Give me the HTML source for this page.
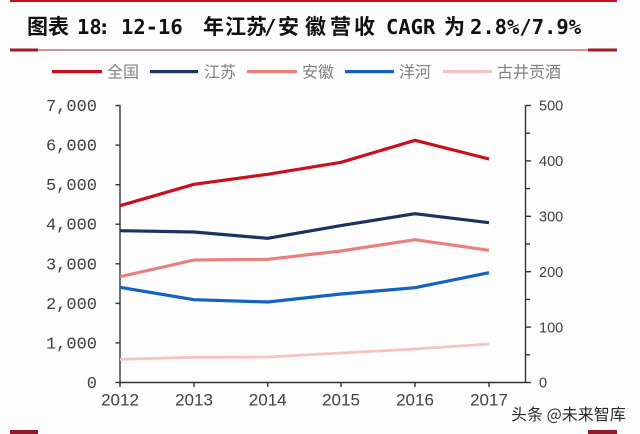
<!DOCTYPE html>
<html>
<head>
<meta charset="utf-8">
<style>
  html, body { margin:0; padding:0; background:#fdfdfe; }
  body { width:640px; height:434px; overflow:hidden; }
  svg { display:block; }
</style>
</head>
<body>
<svg width="640" height="434" viewBox="0 0 640 434" xmlns="http://www.w3.org/2000/svg">
  <rect x="0" y="0" width="640" height="434" fill="#fdfdfe"/>
  <!-- top red rule -->
  <rect x="10" y="0" width="607" height="2" fill="#c0121f"/>
  <!-- title -->
  <g fill="#111" font-weight="bold">
    <text x="27" y="34" font-family="'Noto Sans CJK SC', sans-serif" font-size="21">图表</text>
    <text x="77" y="34" font-family="'DejaVu Sans Mono', monospace" font-size="20.5">18</text>
    <text x="98" y="34" font-family="'DejaVu Sans Mono', monospace" font-size="20.5">:</text>
    <text x="121" y="34" font-family="'DejaVu Sans Mono', monospace" font-size="20.5">12-16</text>
    <text x="203 225 246" y="34" font-family="'Noto Sans CJK SC', sans-serif" font-size="21">年江苏</text>
    <text x="264" y="34" font-family="'DejaVu Sans Mono', monospace" font-size="20.5">/</text>
    <text x="278 305 330 354" y="34" font-family="'Noto Sans CJK SC', sans-serif" font-size="21">安徽营收</text>
    <text x="386" y="34" font-family="'DejaVu Sans Mono', monospace" font-size="20.5">CAGR</text>
    <text x="444" y="34" font-family="'Noto Sans CJK SC', sans-serif" font-size="21">为</text>
    <text x="470" y="34" font-family="'DejaVu Sans Mono', monospace" font-size="20.5">2.8%/7.9%</text>
  </g>
  <!-- under-title rule -->
  <rect x="10" y="49.5" width="607" height="1" fill="#a02a3a"/>
  <rect x="10" y="48.5" width="28" height="3" fill="#a01a2a"/>
  <rect x="588" y="48.5" width="29" height="3" fill="#a01a2a"/>

  <!-- legend -->
  <g font-family="'Noto Sans CJK SC', sans-serif" font-size="16" fill="#808080">
    <rect x="52" y="70" width="50" height="3.2" fill="#c8101e"/>
    <text x="107" y="77.5">全国</text>
    <rect x="150" y="70" width="48" height="3.2" fill="#1b3262"/>
    <text x="204" y="77.5">江苏</text>
    <rect x="247" y="70" width="50" height="3.2" fill="#e8807c"/>
    <text x="302" y="77.5">安徽</text>
    <rect x="345" y="70" width="49" height="3.2" fill="#1463c3"/>
    <text x="399" y="77.5">洋河</text>
    <rect x="443" y="70" width="49" height="3.2" fill="#f5c3c3"/>
    <text x="497" y="77.5">古井贡酒</text>
  </g>

  <!-- axes -->
  <g stroke="#333" stroke-width="1.4" fill="none">
    <line x1="120" y1="105" x2="120" y2="383"/>
    <line x1="525.5" y1="105" x2="525.5" y2="383"/>
    <line x1="120" y1="382.5" x2="525.5" y2="382.5"/>
    <line x1="115.5" y1="105.5" x2="120" y2="105.5"/>
    <line x1="115.5" y1="145.1" x2="120" y2="145.1"/>
    <line x1="115.5" y1="184.7" x2="120" y2="184.7"/>
    <line x1="115.5" y1="224.2" x2="120" y2="224.2"/>
    <line x1="115.5" y1="263.8" x2="120" y2="263.8"/>
    <line x1="115.5" y1="303.4" x2="120" y2="303.4"/>
    <line x1="115.5" y1="342.9" x2="120" y2="342.9"/>
    <line x1="115.5" y1="382.5" x2="120" y2="382.5"/>
    <line x1="525.5" y1="105.5" x2="531" y2="105.5"/>
    <line x1="525.5" y1="133.2" x2="530" y2="133.2"/>
    <line x1="525.5" y1="160.9" x2="531" y2="160.9"/>
    <line x1="525.5" y1="188.6" x2="530" y2="188.6"/>
    <line x1="525.5" y1="216.3" x2="531" y2="216.3"/>
    <line x1="525.5" y1="244" x2="530" y2="244"/>
    <line x1="525.5" y1="271.7" x2="531" y2="271.7"/>
    <line x1="525.5" y1="299.4" x2="530" y2="299.4"/>
    <line x1="525.5" y1="327.1" x2="531" y2="327.1"/>
    <line x1="525.5" y1="354.8" x2="530" y2="354.8"/>
    <line x1="525.5" y1="382.5" x2="531" y2="382.5"/>
    <line x1="120" y1="382.5" x2="120" y2="387"/>
    <line x1="194" y1="382.5" x2="194" y2="387"/>
    <line x1="267.7" y1="382.5" x2="267.7" y2="387"/>
    <line x1="341" y1="382.5" x2="341" y2="387"/>
    <line x1="415" y1="382.5" x2="415" y2="387"/>
    <line x1="489" y1="382.5" x2="489" y2="387"/>
  </g>

  <!-- left labels -->
  <g font-family="'Liberation Mono', monospace" font-size="17" fill="#404040" text-anchor="end">
    <text x="97" y="111">7,000</text>
    <text x="97" y="150.6">6,000</text>
    <text x="97" y="190.2">5,000</text>
    <text x="97" y="229.7">4,000</text>
    <text x="97" y="269.3">3,000</text>
    <text x="97" y="308.9">2,000</text>
    <text x="97" y="348.4">1,000</text>
    <text x="97" y="388">0</text>
  </g>
  <!-- right labels -->
  <g font-family="'Liberation Sans', sans-serif" font-size="14.5" fill="#404040">
    <text x="539" y="110.7">500</text>
    <text x="539" y="166.1">400</text>
    <text x="539" y="221.5">300</text>
    <text x="539" y="276.9">200</text>
    <text x="539" y="332.3">100</text>
    <text x="539" y="387.7">0</text>
  </g>
  <!-- x labels -->
  <g font-family="'Liberation Sans', sans-serif" font-size="17" fill="#404040" text-anchor="middle">
    <text x="120" y="405.5">2012</text>
    <text x="194" y="405.5">2013</text>
    <text x="267.7" y="405.5">2014</text>
    <text x="341" y="405.5">2015</text>
    <text x="415" y="405.5">2016</text>
    <text x="489" y="405.5">2017</text>
  </g>

  <!-- series -->
  <g fill="none" stroke-linejoin="round" stroke-linecap="butt">
    <polyline stroke="#f5c3c3" stroke-width="2.8" points="120,359.3 194,357.3 267.7,357 341,353 415,349 489,344"/>
    <polyline stroke="#1463c3" stroke-width="3.2" points="120,287.3 194,299.7 267.7,302 341,294 415,287.7 489,272.7"/>
    <polyline stroke="#e8807c" stroke-width="3.2" points="120,276.7 194,260 267.7,259.3 341,251 415,239.7 489,250.3"/>
    <polyline stroke="#1b3262" stroke-width="3.2" points="120,230.7 194,232 267.7,238.3 341,225.6 415,213.7 489,222.7"/>
    <polyline stroke="#c8101e" stroke-width="3.2" points="120,205.7 194,184.3 267.7,174.3 341,162.3 415,140.3 489,159"/>
  </g>

  <!-- watermark -->
  <text x="511" y="420" font-family="'Noto Sans CJK SC', sans-serif" font-size="16" fill="#2a2a2a" stroke="#ffffff" stroke-width="0.6" paint-order="stroke">头条 @未来智库</text>

  <!-- bottom corner marks -->
  <rect x="10" y="430" width="28" height="4" fill="#8e1b2c"/>
  <rect x="588" y="430" width="29" height="4" fill="#8e1b2c"/>
</svg>
</body>
</html>
